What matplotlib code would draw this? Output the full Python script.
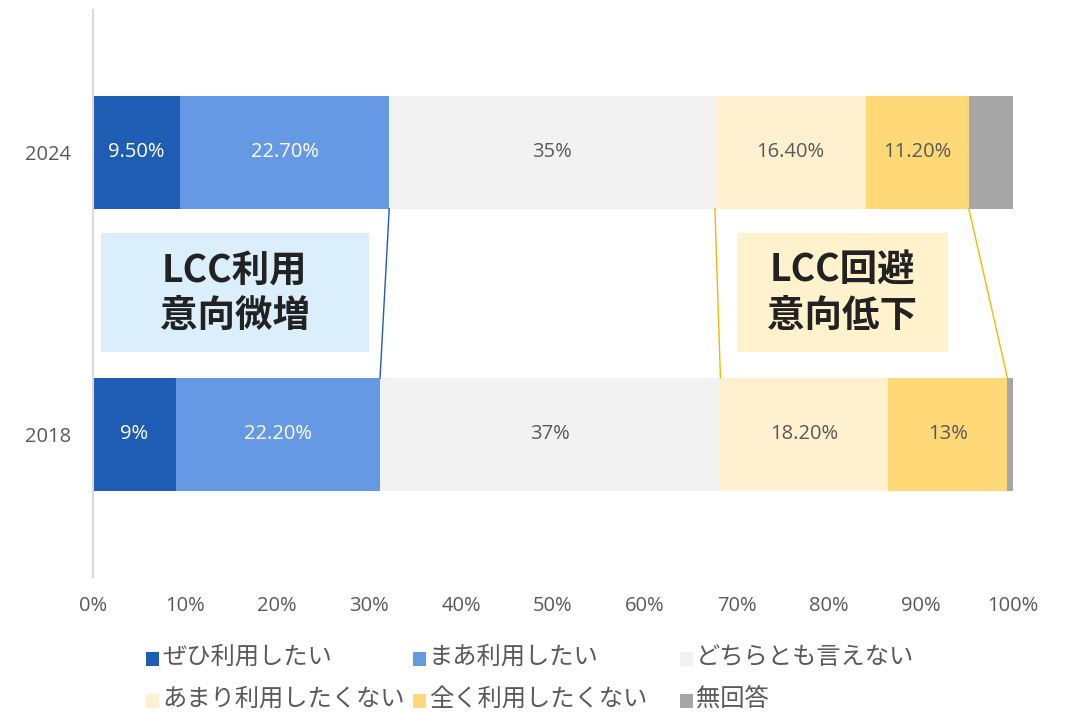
import matplotlib
matplotlib.use("Agg")
import matplotlib.pyplot as plt
from matplotlib.patches import Rectangle

plt.rcParams['font.family'] = ['Open Sans', 'Noto Sans CJK JP', 'DejaVu Sans']

# Data.
years = ["2018", "2024"]
categories = ["ぜひ利用したい", "まあ利用したい", "どちらとも言えない",
              "あまり利用したくない", "全く利用したくない", "無回答"]
vals_2018 = [9.0, 22.2, 37.0, 18.2, 13.0, 0.6]
vals_2024 = [9.5, 22.7, 35.4, 16.4, 11.2, 4.8]
labels_2018 = ["9%", "22.20%", "37%", "18.20%", "13%", ""]
labels_2024 = ["9.50%", "22.70%", "35%", "16.40%", "11.20%", ""]
xticks = [0, 10, 20, 30, 40, 50, 60, 70, 80, 90, 100]

colors = ["#1F5DB4", "#6699E3", "#F2F2F2", "#FFF0CF", "#FFD878", "#A6A6A6"]
text_colors = ["white", "white", "#595959", "#595959", "#595959", "#595959"]

fig = plt.figure(figsize=(10.66, 7.14), dpi=100)
ax = fig.add_axes([93 / 1066, 1 - 577 / 714, 920 / 1066, 567 / 714])

bar_h = 0.40
rows = [(0, vals_2018, labels_2018), (1, vals_2024, labels_2024)]
for y, vals, labs in rows:
    left = 0
    for i, v in enumerate(vals):
        ax.barh(y, v, left=left, height=bar_h, color=colors[i], edgecolor="none")
        if labs[i]:
            ax.text(left + v / 2, y, labs[i], ha="center", va="center",
                    fontsize=14.5, color=text_colors[i])
        left += v

# connector lines
def cum(vals, n):
    return sum(vals[:n])

ax.plot([cum(vals_2024, 2), cum(vals_2018, 2)], [1 - bar_h / 2, bar_h / 2],
        color="#1F5DB4", lw=1)
ax.plot([cum(vals_2024, 3), cum(vals_2018, 3)], [1 - bar_h / 2, bar_h / 2],
        color="#F5B800", lw=1)
ax.plot([cum(vals_2024, 5), cum(vals_2018, 5)], [1 - bar_h / 2, bar_h / 2],
        color="#F5B800", lw=1)

# callout boxes
ax.add_patch(Rectangle((0.87, 0.291), 29.1, 0.422, facecolor="#DAEEFB",
                       edgecolor="none", zorder=1))
ax.text(15.4, 0.502, "LCC利用\n意向微増", ha="center", va="center",
        fontsize=27, fontweight="bold", color="#222222", linespacing=1.2,
        family=["Noto Sans CJK JP"])
ax.add_patch(Rectangle((70.0, 0.291), 22.9, 0.422, facecolor="#FFF2CC",
                       edgecolor="none", zorder=1))
ax.text(81.45, 0.502, "LCC回避\n意向低下", ha="center", va="center",
        fontsize=27, fontweight="bold", color="#222222", linespacing=1.2,
        family=["Noto Sans CJK JP"])

ax.set_xlim(0, 100)
ax.set_ylim(-0.505, 1.504)
ax.set_yticks([0, 1])
ax.set_yticklabels(years)
ax.set_xticks(xticks)
ax.set_xticklabels([f"{t}%" for t in xticks])
ax.tick_params(axis="both", length=0, labelsize=14.5, labelcolor="#595959")
ax.tick_params(axis="x", pad=14)
ax.tick_params(axis="y", pad=16)
for s in ["top", "right", "bottom"]:
    ax.spines[s].set_visible(False)
ax.spines["left"].set_color("#D9D9D9")
ax.spines["left"].set_linewidth(1.5)

# legend
leg_x = [146, 413, 680]
leg_y = [659, 701]
for i, name in enumerate(categories):
    px = leg_x[i % 3]
    py = leg_y[i // 3]
    fig.patches.append(Rectangle((px / 1066, 1 - (py + 7) / 714), 13 / 1066, 14 / 714,
                                 facecolor=colors[i], edgecolor="none",
                                 transform=fig.transFigure, figure=fig))
    fig.text((px + 16) / 1066, 1 - (py - 1) / 714, name, ha="left", va="center",
             fontsize=17.5, color="#595959")

fig.savefig("out.png", dpi=100)
